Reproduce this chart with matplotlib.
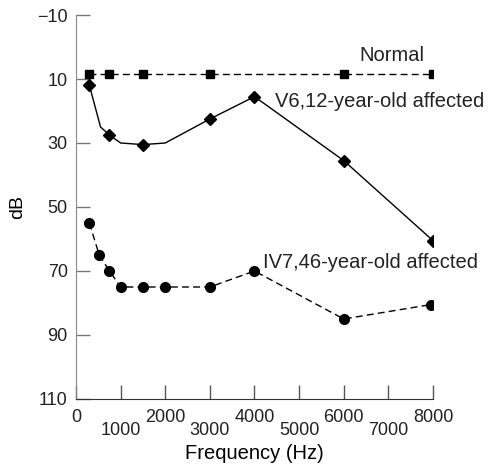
import matplotlib.pyplot as plt

# values
freq_normal = [300, 750, 1500, 3000, 6000, 8000]
db_normal = [8.5, 8.5, 8.5, 8.5, 8.5, 8.5]

freq_v6 = [300, 550, 750, 1000, 1500, 2000, 3000, 4000, 6000, 8000]
db_v6 = [12, 25, 27.5, 30, 30.5, 30, 22.5, 15.5, 35.5, 60.5]
v6_marked = [0, 2, 4, 6, 7, 8, 9]

freq_iv7 = [300, 520, 750, 1000, 1500, 2000, 3000, 4000, 6000, 7950]
db_iv7 = [55, 65, 70, 75, 75, 75, 75, 70, 85, 80.5]

y_ticks = [-10, 10, 30, 50, 70, 90, 110]
x_upper = [0, 2000, 4000, 6000, 8000]
x_lower = [1000, 3000, 5000, 7000]

plt.rcParams['font.family'] = ['Liberation Sans', 'DejaVu Sans']
plt.rcParams['text.color'] = '#222222'

fig = plt.figure(figsize=(4.91, 4.66), dpi=100)
ax = fig.add_axes([0.1548, 0.1438, 0.727, 0.824])

ax.plot(freq_normal, db_normal, color='black', linewidth=1.0, linestyle=(0, (5, 3)),
        marker='s', markersize=6)
ax.plot(freq_v6, db_v6, color='black', linewidth=1.0, marker='D', markersize=6,
        markevery=v6_marked)
ax.plot(freq_iv7, db_iv7, color='black', linewidth=1.0, linestyle=(0, (5, 3)),
        marker='o', markersize=7)

ax.text(7070, 2.5, 'Normal', fontsize=14.5, ha='center', va='center')
ax.text(4450, 17, 'V6,12-year-old affected', fontsize=14.5, ha='left', va='center')
ax.text(4200, 67.5, 'IV7,46-year-old affected', fontsize=14.5, ha='left', va='center')

ax.set_xlim(0, 8000)
ax.set_ylim(110, -10)
ax.set_yticks(y_ticks)
ax.set_yticklabels(['\u221210' if t < 0 else str(t) for t in y_ticks])
ax.set_xticks(x_upper)
ax.set_xticklabels([str(t) for t in x_upper])
ax.set_xticks(x_lower, minor=True)
ax.set_xticklabels([str(t) for t in x_lower], minor=True)

ax.tick_params(axis='y', direction='in', length=10, width=1, color='#777777',
               labelsize=13, pad=6, labelcolor='#222222')
ax.tick_params(axis='x', which='major', direction='in', length=10, width=1,
               color='#555555', labelsize=13, pad=7, labelcolor='#222222')
ax.tick_params(axis='x', which='minor', direction='in', length=10, width=1,
               color='#555555', labelsize=13, pad=16.5, labelcolor='#222222')

for side in ['top', 'right']:
    ax.spines[side].set_visible(False)
ax.spines['left'].set_color('#888888')
ax.spines['bottom'].set_color('#333333')

ax.set_xlabel('Frequency (Hz)', fontsize=14.5, labelpad=4)
ax.set_ylabel('dB', fontsize=14, labelpad=8)

fig.savefig('out.png', dpi=100)
